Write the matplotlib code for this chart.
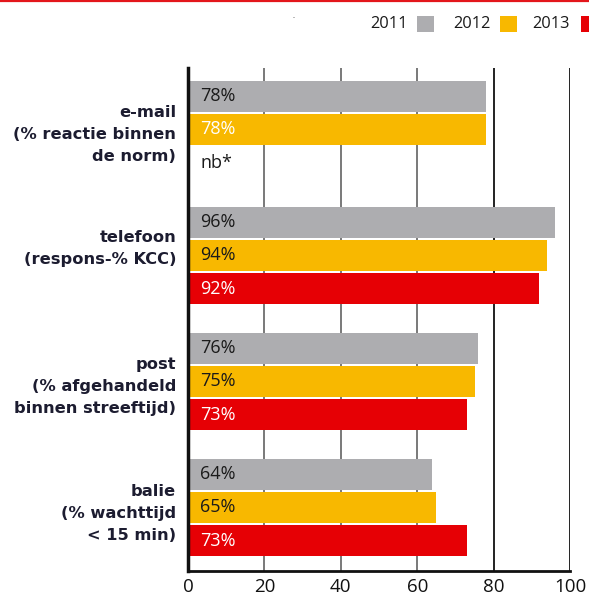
import matplotlib
matplotlib.use("Agg")
import matplotlib.pyplot as plt
from matplotlib.patches import Rectangle
from matplotlib.lines import Line2D
from matplotlib.transforms import ScaledTranslation

categories = [
    "e-mail\n(% reactie binnen\nde norm)",
    "telefoon\n(respons-% KCC)",
    "post\n(% afgehandeld\nbinnen streeftijd)",
    "balie\n(% wachttijd\n< 15 min)",
]
years = ["2011", "2012", "2013"]
v2011 = [78, 96, 76, 64]
v2012 = [78, 94, 75, 65]
v2013 = [None, 92, 73, 73]
missing_label = "nb*"
xticks = [0, 20, 40, 60, 80, 100]

colors = ["#adadb0", "#f8b800", "#e60005"]
label_colors = {
    0: ["#1a1a1a"] * 4,
    1: ["white", "#1a1a1a", "#1a1a1a", "#1a1a1a"],
    2: ["white"] * 4,
}

W, H = 589, 595
fig = plt.figure(figsize=(W / 100, H / 100), dpi=100)
ax = fig.add_axes([188 / W, 1 - 571 / H, (570 - 188) / W, (571 - 68) / H])

offsets = [-0.263, 0.0, 0.263]
bh = 0.246
series = [v2011, v2012, v2013]
num_font = "Open Sans"
for si, vals in enumerate(series):
    for ci, v in enumerate(vals):
        y = ci + offsets[si]
        if v is None:
            ax.text(3.2, y, missing_label, va="center", ha="left", fontsize=13,
                    family=num_font, color="#1a1a1a", zorder=4)
            continue
        ax.barh(y, v, height=bh, color=colors[si], zorder=3, linewidth=0)
        ax.text(3.2, y, f"{v}%", va="center", ha="left", fontsize=13,
                family=num_font, color=label_colors[si][ci], zorder=4)

for xt in [20, 40, 60, 80, 100]:
    c = "#6e6e6e" if xt < 80 else "#111111"
    ax.axvline(xt, color=c, lw=1.3, zorder=1)

ax.set_xlim(0, 100)
ax.set_ylim(3.504, -0.488)
ax.set_xticks(xticks)
ax.set_xticklabels([str(t) for t in xticks], family=num_font, fontsize=13.5)
ax.tick_params(axis="x", length=0, pad=5, colors="#111111")
ax.set_yticks(range(len(categories)))
ax.set_yticklabels(categories, fontsize=11.7, fontweight="bold", color="#1c1c30",
                   linespacing=1.58, family="DejaVu Sans")
ax.tick_params(axis="y", length=0, pad=8.5)
shifts = [0, 12, 0, -1]  # pixels upward
for lab, dy in zip(ax.get_yticklabels(), shifts):
    lab.set_transform(lab.get_transform() + ScaledTranslation(0, dy / 100, fig.dpi_scale_trans))
for s in ["top", "right"]:
    ax.spines[s].set_visible(False)
ax.spines["left"].set_linewidth(2.5)
ax.spines["left"].set_color("#111111")
ax.spines["bottom"].set_linewidth(2)
ax.spines["bottom"].set_color("#111111")
ax.spines["left"].set_zorder(5)

# top red rule
fig.add_artist(Line2D([0, 1], [1 - 0.7 / H, 1 - 0.7 / H], color="#e3161b", lw=1.6,
                      transform=fig.transFigure))
# tiny speck
fig.add_artist(Rectangle((293 / W, 1 - 18 / H), 2 / W, 1 / H, color="#bbbbbb",
                         transform=fig.transFigure, lw=0))

# legend
leg = [(408, 417), (491, 500), (570, 581)]
for (tx, sx), yr, c in zip(leg, years, colors):
    fig.text(tx / W, 1 - 28.3 / H, yr, ha="right", va="baseline", fontsize=11.8,
             family=num_font, color="#1a1a1a")
    fig.add_artist(Rectangle((sx / W, 1 - 32 / H), 17 / W, 16 / H, color=c,
                             transform=fig.transFigure, lw=0))

fig.savefig("out.png", dpi=100)
